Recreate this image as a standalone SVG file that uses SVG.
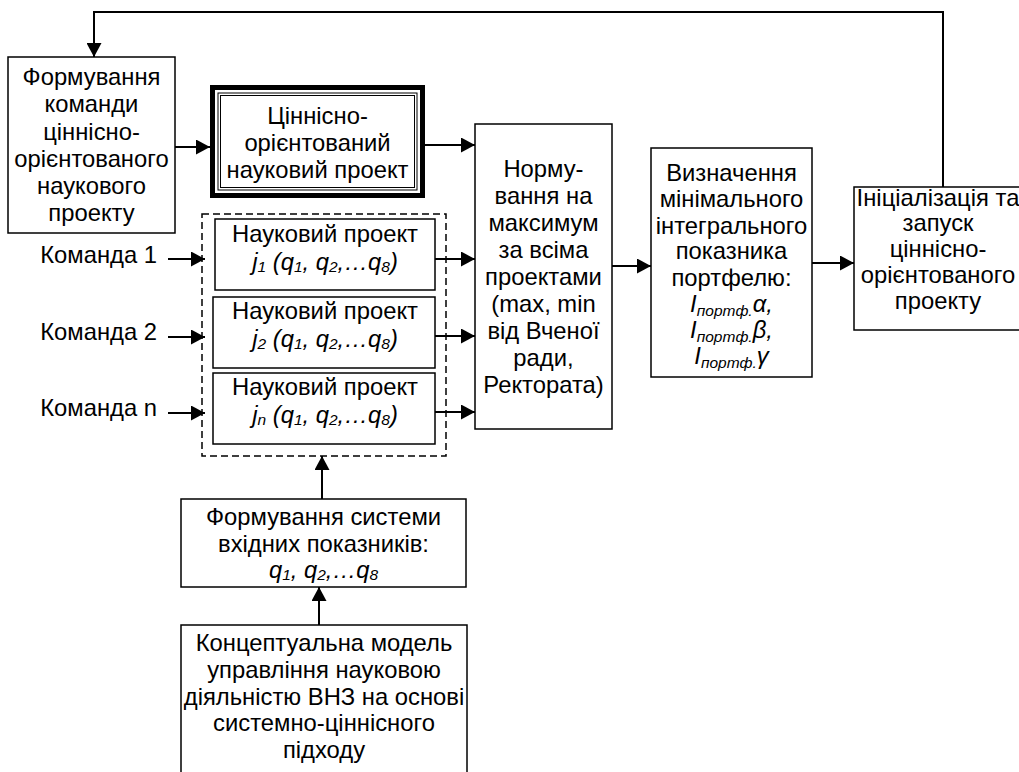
<svg xmlns="http://www.w3.org/2000/svg" width="1019" height="772" viewBox="0 0 1019 772">
<defs>
<marker id="ah" markerUnits="userSpaceOnUse" markerWidth="15" markerHeight="15" refX="14" refY="7.5" orient="auto">
<path d="M0,0 L14,7.5 L0,15 z" fill="#000"/>
</marker>
<style>
text{font-family:"Liberation Sans",Arial,sans-serif;font-size:23.8px;fill:#000}
.c{text-anchor:middle}
.r{text-anchor:end}
.i{font-style:italic}
.s{font-size:15.5px}
.box{fill:#fff;stroke:#000;stroke-width:1.5}
.con{fill:none;stroke:#000;stroke-width:2;marker-end:url(#ah)}
</style>
</defs>
<rect width="1019" height="772" fill="#fff"/>

<g id="connectors">
<polyline class="con" points="943,187 943,12 94,12 94,57"/>
<line class="con" x1="175" y1="147" x2="210" y2="147"/>
<line class="con" x1="425" y1="145" x2="475" y2="145"/>
<line class="con" x1="168" y1="259" x2="205" y2="259"/>
<line class="con" x1="168" y1="337" x2="205" y2="337"/>
<line class="con" x1="168" y1="413" x2="205" y2="413"/>
<line class="con" x1="435" y1="259" x2="475" y2="259"/>
<line class="con" x1="435" y1="336" x2="475" y2="336"/>
<line class="con" x1="435" y1="412" x2="475" y2="412"/>
<line class="con" x1="612" y1="266" x2="651" y2="266"/>
<line class="con" x1="812" y1="263" x2="854" y2="263"/>
<line class="con" x1="322" y1="499" x2="322" y2="456"/>
<line class="con" x1="319" y1="625" x2="319" y2="587"/>
</g>

<g id="team-formation">
<rect class="box" x="8" y="57" width="167" height="176"/>
<text class="c" x="91.5" y="85">Формування</text>
<text class="c" x="91.5" y="112">команди</text>
<text class="c" x="91.5" y="139.5">ціннісно-</text>
<text class="c" x="91.5" y="166.5">орієнтованого</text>
<text class="c" x="91.5" y="194">наукового</text>
<text class="c" x="91.5" y="221">проекту</text>
</g>

<g id="value-project">
<rect x="212.5" y="87.5" width="210" height="108" fill="#fff" stroke="#000" stroke-width="5"/>
<rect x="218" y="93" width="199" height="97" fill="none" stroke="#000" stroke-width="1"/>
<rect x="220.5" y="95.5" width="194" height="92" fill="none" stroke="#000" stroke-width="1"/>
<text class="c" x="317.5" y="124">Ціннісно-</text>
<text class="c" x="317.5" y="151">орієнтований</text>
<text class="c" x="317.5" y="178">науковий проект</text>
</g>

<g id="teams">
<text class="r" x="157" y="263">Команда 1</text>
<text class="r" x="157" y="340">Команда 2</text>
<text class="r" x="157" y="416">Команда n</text>
</g>

<g id="project-group">
<rect x="202" y="214" width="244" height="242" fill="none" stroke="#000" stroke-width="1.5" stroke-dasharray="7 4"/>
</g>

<g id="project-1">
<rect class="box" x="215" y="219" width="220" height="71"/>
<text class="c" x="325" y="242">Науковий проект</text>
<text class="c i" x="325" y="270">j<tspan class="s" dy="2">1</tspan><tspan dy="-2"> (q</tspan><tspan class="s" dy="2">1</tspan><tspan dy="-2">, q</tspan><tspan class="s" dy="2">2</tspan><tspan dy="-2">,…q</tspan><tspan class="s" dy="2">8</tspan><tspan dy="-2">)</tspan></text>
</g>

<g id="project-2">
<rect class="box" x="213" y="297" width="222" height="71"/>
<text class="c" x="325" y="319">Науковий проект</text>
<text class="c i" x="325" y="347">j<tspan class="s" dy="2">2</tspan><tspan dy="-2"> (q</tspan><tspan class="s" dy="2">1</tspan><tspan dy="-2">, q</tspan><tspan class="s" dy="2">2</tspan><tspan dy="-2">,…q</tspan><tspan class="s" dy="2">8</tspan><tspan dy="-2">)</tspan></text>
</g>

<g id="project-n">
<rect class="box" x="213" y="373" width="222" height="71"/>
<text class="c" x="325" y="395">Науковий проект</text>
<text class="c i" x="325" y="423">j<tspan class="s" dy="2">n</tspan><tspan dy="-2"> (q</tspan><tspan class="s" dy="2">1</tspan><tspan dy="-2">, q</tspan><tspan class="s" dy="2">2</tspan><tspan dy="-2">,…q</tspan><tspan class="s" dy="2">8</tspan><tspan dy="-2">)</tspan></text>
</g>

<g id="normalization">
<rect class="box" x="475" y="124" width="137" height="305"/>
<text class="c" x="543.5" y="177">Норму-</text>
<text class="c" x="543.5" y="204">вання на</text>
<text class="c" x="543.5" y="231">максимум</text>
<text class="c" x="543.5" y="258">за всіма</text>
<text class="c" x="543.5" y="285">проектами</text>
<text class="c" x="543.5" y="312">(max, min</text>
<text class="c" x="543.5" y="339">від Вченої</text>
<text class="c" x="543.5" y="366">ради,</text>
<text class="c" x="543.5" y="393">Ректората)</text>
</g>

<g id="min-index">
<rect class="box" x="651" y="148" width="161" height="229"/>
<text class="c" x="731.5" y="181">Визначення</text>
<text class="c" x="731.5" y="207">мінімального</text>
<text class="c" x="731.5" y="234">інтегрального</text>
<text class="c" x="731.5" y="259">показника</text>
<text class="c" x="731.5" y="286">портфелю:</text>
<text class="c i" x="731.5" y="312">I<tspan class="s" dy="4">портф.</tspan><tspan dy="-4">α,</tspan></text>
<text class="c i" x="731.5" y="338">I<tspan class="s" dy="4">портф.</tspan><tspan dy="-4">β,</tspan></text>
<text class="c i" x="731.5" y="364">I<tspan class="s" dy="4">портф.</tspan><tspan dy="-4">γ</tspan></text>
</g>

<g id="launch">
<rect class="box" x="854" y="187" width="168" height="143"/>
<text class="c" x="938" y="206">Ініціалізація та</text>
<text class="c" x="938" y="231">запуск</text>
<text class="c" x="938" y="257">ціннісно-</text>
<text class="c" x="938" y="283">орієнтованого</text>
<text class="c" x="938" y="309">проекту</text>
</g>

<g id="indicators">
<rect class="box" x="181" y="499" width="285" height="88"/>
<text class="c" x="323.5" y="525">Формування системи</text>
<text class="c" x="323.5" y="552">вхідних показників:</text>
<text class="c i" x="323.5" y="578">q<tspan class="s" dy="2">1</tspan><tspan dy="-2">, q</tspan><tspan class="s" dy="2">2</tspan><tspan dy="-2">,…q</tspan><tspan class="s" dy="2">8</tspan></text>
</g>

<g id="concept-model">
<rect class="box" x="181" y="625" width="286" height="160"/>
<text class="c" x="324" y="651">Концептуальна модель</text>
<text class="c" x="324" y="678">управління науковою</text>
<text class="c" x="324" y="705">діяльністю ВНЗ на основі</text>
<text class="c" x="324" y="731">системно-ціннісного</text>
<text class="c" x="324" y="758">підходу</text>
</g>
</svg>
